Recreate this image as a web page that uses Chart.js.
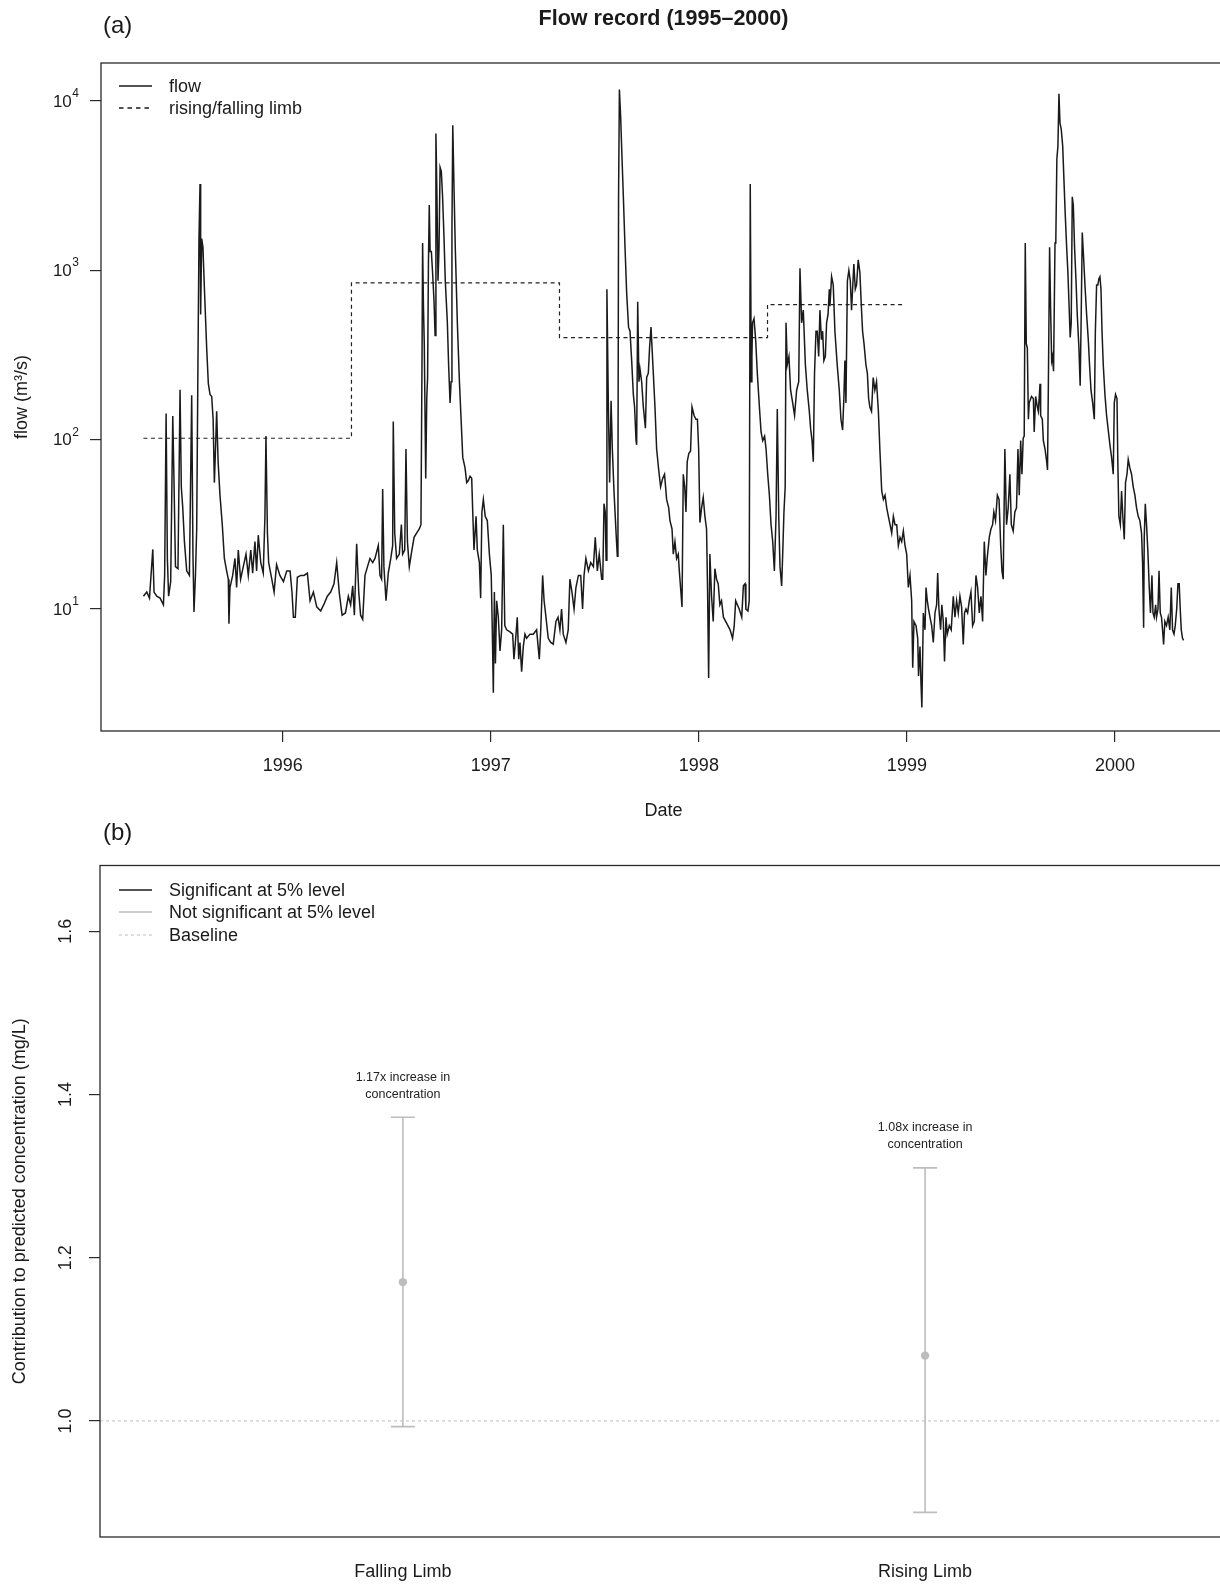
<!DOCTYPE html>
<html>
<head>
<meta charset="utf-8">
<title>Flow record and limb effects</title>
<script src="https://cdn.jsdelivr.net/npm/chart.js@4.4.1/dist/chart.umd.min.js"></script>
<style>
  html, body { margin: 0; padding: 0; background: #fff; overflow: hidden; }
  body { width: 1220px; height: 1584px; position: relative; }
  canvas { position: absolute; left: 0; }
  #flowChart { top: 0; }
  #effectChart { top: 800px; }
</style>
</head>
<body>
<canvas id="flowChart" width="1240" height="830"></canvas>
<canvas id="effectChart" width="1240" height="784"></canvas>
<script>
// daily flow record, decimal years
const flowDate = [
  1995.330, 1995.346, 1995.359, 1995.375, 1995.381, 1995.394, 1995.410, 1995.426, 1995.432, 1995.439,
  1995.445, 1995.451, 1995.461, 1995.471, 1995.477, 1995.484, 1995.496, 1995.506, 1995.512, 1995.519,
  1995.527, 1995.538, 1995.551, 1995.562, 1995.568, 1995.573, 1995.580, 1995.586, 1995.592, 1995.597,
  1995.602, 1995.605, 1995.610, 1995.616, 1995.624, 1995.634, 1995.642, 1995.650, 1995.658, 1995.665,
  1995.671, 1995.677, 1995.682, 1995.689, 1995.698, 1995.709, 1995.719, 1995.730, 1995.738, 1995.741,
  1995.746, 1995.759, 1995.770, 1995.778, 1995.786, 1995.797, 1995.810, 1995.823, 1995.834, 1995.846,
  1995.855, 1995.866, 1995.874, 1995.882, 1995.894, 1995.906, 1995.914, 1995.919, 1995.926, 1995.932,
  1995.947, 1995.958, 1995.970, 1995.986, 1996.003, 1996.019, 1996.035, 1996.044, 1996.051, 1996.060,
  1996.070, 1996.086, 1996.102, 1996.118, 1996.131, 1996.147, 1996.163, 1996.182, 1996.198, 1996.214,
  1996.230, 1996.246, 1996.259, 1996.272, 1996.285, 1996.301, 1996.315, 1996.326, 1996.336, 1996.344,
  1996.355, 1996.365, 1996.374, 1996.384, 1996.395, 1996.410,
  1996.419, 1996.432, 1996.443, 1996.459, 1996.467, 1996.475, 1996.480, 1996.486, 1996.496, 1996.507,
  1996.519, 1996.528, 1996.531, 1996.538, 1996.547, 1996.560, 1996.570, 1996.576, 1996.586, 1996.592,
  1996.599, 1996.608, 1996.619, 1996.631, 1996.643, 1996.656, 1996.664, 1996.669, 1996.672, 1996.676,
  1996.680, 1996.687, 1996.692, 1996.696, 1996.700, 1996.704, 1996.708, 1996.714, 1996.720, 1996.727,
  1996.732, 1996.736, 1996.741, 1996.746, 1996.751, 1996.756, 1996.762, 1996.768, 1996.775, 1996.781,
  1996.791, 1996.797, 1996.804, 1996.809, 1996.813, 1996.817, 1996.823, 1996.829, 1996.839, 1996.849,
  1996.857, 1996.865, 1996.876, 1996.884, 1996.892, 1996.900, 1996.908, 1996.913, 1996.919, 1996.929,
  1996.935, 1996.945, 1996.951, 1996.957, 1996.964, 1996.973, 1996.983, 1996.993, 1997.002, 1997.007,
  1997.012, 1997.017, 1997.022, 1997.028, 1997.036, 1997.044, 1997.052, 1997.060, 1997.067, 1997.076,
  1997.092, 1997.105, 1997.111, 1997.118, 1997.127, 1997.134, 1997.140, 1997.148, 1997.156, 1997.164,
  1997.172, 1997.188, 1997.204, 1997.220, 1997.233, 1997.240, 1997.249, 1997.256, 1997.265, 1997.276,
  1997.288, 1997.300, 1997.313, 1997.323, 1997.332, 1997.340, 1997.348, 1997.361, 1997.372, 1997.380,
  1997.390, 1997.400, 1997.409, 1997.421, 1997.432, 1997.441, 1997.448, 1997.457, 1997.469, 1997.480,
  1997.493, 1997.502, 1997.512, 1997.521,
  1997.525, 1997.533, 1997.538, 1997.544, 1997.550, 1997.554, 1997.558, 1997.565, 1997.571, 1997.578,
  1997.584, 1997.592, 1997.602, 1997.608, 1997.611, 1997.614, 1997.618, 1997.624, 1997.630, 1997.637,
  1997.645, 1997.653, 1997.662, 1997.669, 1997.677, 1997.685, 1997.691, 1997.698, 1997.701, 1997.706,
  1997.712, 1997.717, 1997.725, 1997.733, 1997.743, 1997.749, 1997.757, 1997.763, 1997.770, 1997.778,
  1997.789, 1997.797, 1997.807, 1997.816, 1997.826, 1997.835, 1997.845, 1997.855, 1997.861, 1997.871,
  1997.877, 1997.885, 1997.893, 1997.901, 1997.906, 1997.912, 1997.919, 1997.925, 1997.932, 1997.938,
  1997.944, 1997.952, 1997.960, 1997.967, 1997.977, 1997.986, 1997.993, 1997.999, 1998.005, 1998.013,
  1998.021, 1998.029, 1998.037, 1998.042, 1998.047, 1998.053, 1998.061, 1998.069, 1998.077, 1998.085,
  1998.093, 1998.101, 1998.109, 1998.118, 1998.134, 1998.150, 1998.162, 1998.170, 1998.177, 1998.185,
  1998.194, 1998.206, 1998.214, 1998.222, 1998.226, 1998.236, 1998.242, 1998.247, 1998.252, 1998.255,
  1998.258, 1998.265, 1998.273, 1998.281, 1998.291, 1998.299, 1998.307, 1998.316, 1998.323, 1998.331,
  1998.339, 1998.347, 1998.355, 1998.363, 1998.371, 1998.377, 1998.384, 1998.390, 1998.398, 1998.403,
  1998.409, 1998.415, 1998.419, 1998.425, 1998.433, 1998.441, 1998.451, 1998.460, 1998.470, 1998.480,
  1998.486, 1998.494, 1998.502, 1998.512, 1998.521, 1998.531, 1998.537, 1998.544, 1998.550, 1998.556,
  1998.563, 1998.569, 1998.576, 1998.582, 1998.589, 1998.595, 1998.601, 1998.608, 1998.614, 1998.621,
  1998.627,
  1998.630, 1998.638, 1998.646, 1998.654, 1998.665, 1998.675, 1998.683, 1998.691, 1998.697, 1998.702,
  1998.707, 1998.714, 1998.721, 1998.728, 1998.734, 1998.739, 1998.745, 1998.752, 1998.758, 1998.766,
  1998.774, 1998.781, 1998.787, 1998.794, 1998.803, 1998.810, 1998.816, 1998.822, 1998.830, 1998.838,
  1998.846, 1998.854, 1998.863, 1998.870, 1998.879, 1998.887, 1998.895, 1998.903, 1998.911, 1998.919,
  1998.927, 1998.935, 1998.943, 1998.951, 1998.959, 1998.967, 1998.975, 1998.983, 1998.991, 1998.999,
  1999.007, 1999.015, 1999.023, 1999.028, 1999.034, 1999.044, 1999.052, 1999.056, 1999.063, 1999.068,
  1999.072, 1999.079, 1999.087, 1999.092, 1999.098, 1999.104, 1999.111, 1999.119, 1999.127, 1999.135,
  1999.143, 1999.148, 1999.154, 1999.162, 1999.168, 1999.175, 1999.181, 1999.188, 1999.194, 1999.204,
  1999.213, 1999.223, 1999.231, 1999.239, 1999.247, 1999.255, 1999.263, 1999.271, 1999.277, 1999.284,
  1999.292, 1999.300, 1999.308, 1999.316, 1999.324, 1999.332, 1999.340, 1999.348, 1999.356, 1999.364,
  1999.372, 1999.380, 1999.386, 1999.396, 1999.404, 1999.412, 1999.418, 1999.426, 1999.435, 1999.443,
  1999.451, 1999.457, 1999.463, 1999.471, 1999.479, 1999.487, 1999.495, 1999.502, 1999.511, 1999.519,
  1999.527, 1999.534, 1999.540, 1999.547, 1999.553, 1999.559, 1999.564, 1999.569, 1999.574, 1999.579,
  1999.584, 1999.588,
  1999.591, 1999.599, 1999.608, 1999.612, 1999.619, 1999.627, 1999.632, 1999.640, 1999.643, 1999.651,
  1999.656, 1999.664, 1999.672, 1999.676, 1999.681, 1999.686, 1999.691, 1999.696, 1999.700, 1999.705,
  1999.712, 1999.716, 1999.721, 1999.726, 1999.731, 1999.736, 1999.742, 1999.749, 1999.755, 1999.761,
  1999.768, 1999.774, 1999.779, 1999.785, 1999.790, 1999.795, 1999.800, 1999.806, 1999.813, 1999.819,
  1999.827, 1999.833, 1999.838, 1999.843, 1999.849, 1999.856, 1999.864, 1999.872, 1999.878, 1999.885,
  1999.893, 1999.901, 1999.906, 1999.912, 1999.918, 1999.923, 1999.928, 1999.933, 1999.938, 1999.944,
  1999.952, 1999.960, 1999.968, 1999.976, 1999.984, 1999.992, 1999.997, 2000.003, 2000.010, 2000.014,
  2000.019, 2000.026, 2000.032, 2000.038, 2000.045, 2000.051, 2000.058, 2000.064, 2000.072, 2000.080,
  2000.088, 2000.096, 2000.104, 2000.112, 2000.120, 2000.128, 2000.133, 2000.138, 2000.141, 2000.146,
  2000.152, 2000.159, 2000.165, 2000.171, 2000.178, 2000.183, 2000.189, 2000.196, 2000.200, 2000.207,
  2000.212, 2000.218, 2000.224, 2000.229, 2000.234, 2000.240, 2000.248, 2000.256, 2000.264, 2000.271,
  2000.277, 2000.284, 2000.290, 2000.297, 2000.303, 2000.309, 2000.314, 2000.319, 2000.325, 2000.330
];

// flow, m3/s
const flowValue = [
  11.9, 12.6, 11.6, 22.5, 12.6, 11.9, 11.6, 10.6, 15.8, 143,
  19.9, 11.9, 14.5, 138, 55.8, 17.8, 17.3, 197, 52.7, 39.6,
  25, 16.8, 15.8, 183, 21.1, 9.6, 15.8, 29.7, 277, 1540,
  3230, 549, 1540, 1370, 731, 348, 214, 185, 180, 132,
  55.8, 93, 147, 74, 47, 31.5, 19.9, 16.8, 15, 8.2,
  13.4, 15.8, 19.9, 13.4, 22.3, 15, 17.8, 21.1, 15.8, 22.3,
  16.3, 25, 16.8, 27.3, 18.8, 16.3, 35.3, 105, 28.1, 18.8,
  15, 12.6, 18.3, 15.8, 14.5, 16.8, 16.8, 12.6, 8.95, 8.95,
  15.4, 15.8, 15.8, 16.3, 11.2, 12.6, 10.3, 9.75, 10.7, 11.9,
  12.6, 14.1, 18.8, 12.3, 9.2, 9.48, 11.9, 10.6, 13.7, 9.2,
  24.3, 12.6, 9.2, 8.7, 15.8, 18.3,
  19.9, 18.8, 19.9, 23.7, 15.8, 15, 51.2, 17.8, 11.2, 16.3,
  19.9, 23.7, 128, 28.1, 19.9, 21.1, 31.5, 21.1, 22.3, 88,
  25, 17.8, 21.7, 26.5, 28.1, 29.7, 31.5, 277, 1450, 615,
  368, 59, 175, 233, 1090, 2430, 1290, 1290, 972, 652,
  413, 6420, 2720, 868, 1370, 4060, 3840, 2720, 1540, 868,
  490, 277, 165, 220, 1720, 7200, 3050, 1370, 490, 220,
  132, 78.6, 68.1, 55.8, 57.4, 60.8, 59.1, 37.4, 22.3, 35.3,
  22.3, 18.8, 11.6, 37.4, 44.4, 35.3, 33.3, 21.1, 15.8, 7.54,
  3.2, 12.6, 4.77, 11.2, 8.95, 5.66, 7.54, 31.5, 7.98, 7.54,
  7.33, 7.11, 5.05, 6.35, 8.95, 5.05, 6.35, 4.26, 6.0, 7.11,
  6.72, 7.11, 7.11, 7.54, 5.05, 7.54, 15.8, 11.2, 8.95, 6.72,
  6.35, 6.2, 8.45, 8.95, 7.54, 10.0, 7.11, 6.35, 7.54, 15,
  12.6, 10.0, 13.4, 15.8, 15.8, 10.0, 15.8, 19.9, 16.8, 18.8,
  17.8, 26.5, 16.8, 21.1,
  18.8, 15, 15, 41.9, 37.4, 19.4, 774, 156, 55.8, 170,
  88, 49.8, 28.1, 20.5, 49.8, 2720, 11700, 8070, 4820, 2720,
  1370, 731, 462, 437, 293, 185, 156, 98.8, 93.3, 652,
  220, 261, 220, 156, 117, 233, 247, 348, 462, 293,
  156, 88.1, 66.2, 52.7, 59.1, 62.5, 44.4, 39.6, 33.3, 29.7,
  21.1, 25, 19.9, 21.1, 16.8, 13.4, 10.3, 62.5, 52.7, 37.4,
  74.2, 83.2, 85.6, 156, 139, 132, 132, 88.1, 32.4, 39.6,
  45.7, 35.3, 29.7, 12.6, 3.91, 21.1, 11.9, 8.45, 17.3, 15,
  14.1, 10.6, 11.2, 8.95, 8.22, 7.54, 6.72, 7.98, 11.2, 10.6,
  10.0, 8.95, 13.7, 14.1, 10.0, 9.75, 11.2, 3230, 220, 310,
  490, 519, 390, 247, 156, 111, 98.8, 105, 88.1, 62.5,
  47, 31.5, 25, 16.8, 35.3, 152, 35.3, 17.8, 13.7, 21.1,
  37.4, 52.7, 490, 277, 310, 196, 165, 139, 196, 220,
  1030, 490, 582, 277, 196, 147, 117, 98.8, 74.2, 247,
  437, 437, 310, 582, 390, 437, 293, 310, 490, 549,
  774,
  615, 918, 820, 437, 277, 196, 132, 114, 175, 293,
  165, 868, 1000, 868, 582, 774, 1090, 774, 820, 1155,
  972, 615, 437, 368, 277, 247, 175, 156, 147, 233,
  196, 220, 147, 88.1, 49.8, 44.4, 47, 39.6, 35.3, 31.5,
  28.1, 35.3, 31.5, 31.5, 23.7, 26.5, 25, 28.9, 23.7, 21.1,
  13.4, 15.8, 11.2, 4.5, 8.45, 7.98, 6.72, 4.02, 6.0, 3.58,
  2.62, 9.48, 7.54, 13.4, 11.2, 10.0, 8.95, 7.98, 6.35, 9.48,
  10.6, 16.3, 10.0, 7.54, 10.6, 8.45, 4.91, 8.95, 7.11, 7.98,
  7.54, 11.9, 8.95, 11.2, 9.48, 11.9, 10.3, 6.17, 9.48, 10.0,
  9.48, 11.2, 12.6, 7.98, 8.45, 15.8, 13.4, 9.48, 11.9, 8.45,
  25, 15.8, 19.9, 26.5, 29.7, 31.5, 37.4, 33.3, 47, 44.4,
  23.7, 16.8, 15, 88.1, 31.5, 39.6, 62.5, 31.5, 28.9, 37.4,
  39.6, 88.1, 47, 98.8, 62.5, 102, 105, 1450, 368, 348,
  132, 165,
  165, 180, 175, 111, 180, 156, 147, 214, 139, 132,
  98.8, 88.1, 74.2, 66.2, 277, 1370, 582, 293, 310, 254,
  1450, 1540, 4560, 5410, 11040, 7410, 6800, 5410, 3420, 2170,
  1370, 972, 652, 401, 490, 2720, 2430, 1370, 868, 549,
  348, 208, 549, 1670, 1220, 820, 549, 390, 277, 196,
  165, 132, 437, 820, 820, 893, 918, 774, 437, 277,
  185, 139, 114, 93.3, 78.6, 62.5, 165, 185, 175, 74.2,
  35.3, 31.5, 49.8, 35.3, 25.8, 55.8, 62.5, 76.4, 68.1, 62.5,
  52.7, 47, 39.6, 35.3, 33.3, 28.1, 18.8, 7.76, 26.5, 41.9,
  31.5, 21.1, 13.4, 9.48, 15.8, 9.48, 8.95, 10.6, 8.95, 10.0,
  16.8, 9.48, 8.95, 7.54, 6.17, 8.45, 7.98, 8.95, 7.54, 13.4,
  7.54, 7.11, 7.98, 10.0, 14.1, 14.1, 10.0, 7.54, 6.72, 6.53
];

// rising/falling limb threshold, one level per period
const limbBreaks = [1995.33, 1996.33, 1997.33, 1998.33, 1998.98];
const limbLevels = [102, 843, 401, 627, 627];

const yearTicks = [1996, 1997, 1998, 1999, 2000];
const flowTicks = [10, 100, 1000, 10000];

// panel (b): limb effect on concentration
const limbNames = ['Falling Limb', 'Rising Limb'];
const limbEstimate = [1.17, 1.08];
const limbLower = [0.993, 0.888];
const limbUpper = [1.372, 1.310];
const limbSignificant = [false, false];
const effectTicks = [1.0, 1.2, 1.4, 1.6];
const baselineLevel = 1.0;
const keyLabels = ['Significant at 5% level', 'Not significant at 5% level', 'Baseline'];

const FONT = '"Liberation Sans", Arial, Helvetica, sans-serif';
const INK = '#1a1a1a';
const GREY = '#bdbdbd';
Chart.defaults.font.family = FONT;
Chart.defaults.color = INK;

function drawKey(ctx, rows) {
  rows.forEach(r => {
    ctx.beginPath();
    ctx.setLineDash(r.dash || []);
    ctx.strokeStyle = r.color;
    ctx.lineWidth = r.width;
    ctx.moveTo(119, r.y);
    ctx.lineTo(152, r.y);
    ctx.stroke();
    ctx.setLineDash([]);
    ctx.fillStyle = INK;
    ctx.font = '18px ' + FONT;
    ctx.textAlign = 'left';
    ctx.textBaseline = 'middle';
    ctx.fillText(r.text, 169, r.y + 1);
  });
}

function strokeFrame(ctx, a) {
  ctx.strokeStyle = '#2a2a2a';
  ctx.lineWidth = 1.3;
  ctx.setLineDash([]);
  ctx.strokeRect(a.left, a.top, a.right - a.left, a.bottom - a.top);
}

// box, titles, power-of-ten labels and key for the flow panel
const flowDecor = {
  id: 'flowDecor',
  afterDraw(chart) {
    const { ctx, chartArea: a, scales } = chart;
    ctx.save();
    strokeFrame(ctx, a);
    ctx.fillStyle = INK;

    ctx.font = 'bold 21.5px ' + FONT;
    ctx.textAlign = 'center';
    ctx.textBaseline = 'middle';
    ctx.fillText('Flow record (1995\u20132000)', (a.left + a.right) / 2, 19);

    ctx.font = '24px ' + FONT;
    ctx.textAlign = 'left';
    ctx.fillText('(a)', 103, 26);

    ctx.font = '18px ' + FONT;
    ctx.textAlign = 'center';
    ctx.fillText('Date', (a.left + a.right) / 2, 811);

    ctx.save();
    ctx.translate(22, (a.top + a.bottom) / 2);
    ctx.rotate(-Math.PI / 2);
    ctx.fillText('flow (m\u00b3/s)', 0, 0);
    ctx.restore();

    flowTicks.forEach(v => {
      const y = scales.y.getPixelForValue(v);
      const exp = String(Math.round(Math.log10(v)));
      ctx.font = '12px ' + FONT;
      const ew = ctx.measureText(exp).width;
      ctx.textAlign = 'left';
      ctx.textBaseline = 'alphabetic';
      ctx.fillText(exp, 79 - ew, y - 4);
      ctx.font = '17px ' + FONT;
      ctx.textAlign = 'right';
      ctx.textBaseline = 'middle';
      ctx.fillText('10', 79 - ew - 0.5, y + 1);
    });

    const ds = chart.data.datasets;
    drawKey(ctx, [
      { y: 86, text: ds[0].label, color: INK, width: 1.3 },
      { y: 108, text: ds[1].label, color: INK, width: 1.3, dash: [4.5, 4] }
    ]);
    ctx.restore();
  }
};

new Chart(document.getElementById('flowChart'), {
  type: 'line',
  data: {
    datasets: [
      {
        label: 'flow',
        data: flowDate.map((d, i) => ({ x: d, y: flowValue[i] })),
        borderColor: INK,
        borderWidth: 1.5,
        pointRadius: 0,
        tension: 0
      },
      {
        label: 'rising/falling limb',
        data: limbBreaks.map((d, i) => ({ x: d, y: limbLevels[i] })),
        stepped: true,
        borderColor: '#222',
        borderWidth: 1.2,
        borderDash: [4, 3.5],
        pointRadius: 0
      }
    ]
  },
  options: {
    responsive: false,
    animation: false,
    events: [],
    layout: { padding: { top: 63, right: 14, left: 0, bottom: 0 } },
    plugins: { legend: { display: false }, tooltip: { enabled: false } },
    scales: {
      x: {
        type: 'linear',
        min: 1995.126,
        max: 2000.534,
        afterBuildTicks: scale => { scale.ticks = yearTicks.map(v => ({ value: v })); },
        afterFit: scale => { scale.height = 99; },
        border: { display: false },
        grid: { drawOnChartArea: false, drawTicks: true, tickLength: 11, color: '#2a2a2a', lineWidth: 1.2 },
        ticks: {
          callback: v => String(v),
          autoSkip: false,
          maxRotation: 0,
          padding: 13,
          color: INK,
          font: { size: 18 }
        }
      },
      y: {
        type: 'logarithmic',
        min: 1.905,
        max: 16760,
        afterBuildTicks: scale => { scale.ticks = flowTicks.map(v => ({ value: v })); },
        afterFit: scale => { scale.width = 101; },
        border: { display: false },
        grid: { drawOnChartArea: false, drawTicks: true, tickLength: 11, color: '#2a2a2a', lineWidth: 1.2 },
        ticks: { display: false }
      }
    }
  },
  plugins: [flowDecor]
});

// confidence bars, captions, box and key for the effect panel
const effectBars = {
  id: 'effectBars',
  beforeDatasetsDraw(chart) {
    const { ctx, scales } = chart;
    ctx.save();
    limbNames.forEach((name, i) => {
      const x = scales.x.getPixelForValue(i + 1);
      const yTop = scales.y.getPixelForValue(limbUpper[i]);
      const yBot = scales.y.getPixelForValue(limbLower[i]);
      ctx.strokeStyle = limbSignificant[i] ? INK : GREY;
      ctx.lineWidth = 1.6;
      ctx.beginPath();
      ctx.moveTo(x, yTop); ctx.lineTo(x, yBot);
      ctx.moveTo(x - 12, yTop); ctx.lineTo(x + 12, yTop);
      ctx.moveTo(x - 12, yBot); ctx.lineTo(x + 12, yBot);
      ctx.stroke();
    });
    ctx.restore();
  },
  afterDraw(chart) {
    const { ctx, chartArea: a, scales } = chart;
    ctx.save();
    strokeFrame(ctx, a);
    ctx.fillStyle = INK;

    ctx.font = '24px ' + FONT;
    ctx.textAlign = 'left';
    ctx.textBaseline = 'middle';
    ctx.fillText('(b)', 103, 33);

    ctx.font = '12.5px ' + FONT;
    ctx.textAlign = 'center';
    ctx.fillStyle = '#222';
    limbNames.forEach((name, i) => {
      const x = scales.x.getPixelForValue(i + 1);
      const yTop = scales.y.getPixelForValue(limbUpper[i]);
      ctx.fillText(limbEstimate[i].toFixed(2) + 'x increase in', x, yTop - 40);
      ctx.fillText('concentration', x, yTop - 23);
    });

    ctx.fillStyle = INK;
    ctx.font = '18px ' + FONT;
    effectTicks.forEach(v => {
      const y = scales.y.getPixelForValue(v);
      ctx.save();
      ctx.translate(66, y);
      ctx.rotate(-Math.PI / 2);
      ctx.textAlign = 'center';
      ctx.textBaseline = 'middle';
      ctx.fillText(v.toFixed(1), 0, 0);
      ctx.restore();
    });

    ctx.save();
    ctx.translate(20, (a.top + a.bottom) / 2);
    ctx.rotate(-Math.PI / 2);
    ctx.textAlign = 'center';
    ctx.textBaseline = 'middle';
    ctx.fillText('Contribution to predicted concentration (mg/L)', 0, 0);
    ctx.restore();

    drawKey(ctx, [
      { y: 90, text: keyLabels[0], color: INK, width: 1.3 },
      { y: 112, text: keyLabels[1], color: GREY, width: 1.3 },
      { y: 135, text: keyLabels[2], color: '#c8c8c8', width: 1.2, dash: [3, 3] }
    ]);
    ctx.restore();
  }
};

new Chart(document.getElementById('effectChart'), {
  type: 'line',
  data: {
    datasets: [
      {
        label: 'estimate',
        data: limbEstimate.map((v, i) => ({ x: i + 1, y: v })),
        showLine: false,
        pointRadius: 4.2,
        pointBackgroundColor: limbSignificant.map(s => s ? INK : GREY),
        pointBorderColor: limbSignificant.map(s => s ? INK : GREY),
        pointBorderWidth: 0
      },
      {
        label: 'Baseline',
        data: [{ x: 0.42, y: baselineLevel }, { x: 2.58, y: baselineLevel }],
        borderColor: '#c8c8c8',
        borderWidth: 1.2,
        borderDash: [3, 3],
        pointRadius: 0
      }
    ]
  },
  options: {
    responsive: false,
    animation: false,
    events: [],
    layout: { padding: { top: 65.5, right: 12, left: 0, bottom: 0 } },
    plugins: { legend: { display: false }, tooltip: { enabled: false } },
    scales: {
      x: {
        type: 'linear',
        min: 0.42,
        max: 2.58,
        afterBuildTicks: scale => { scale.ticks = limbNames.map((n, i) => ({ value: i + 1 })); },
        afterFit: scale => { scale.height = 47; },
        border: { display: false },
        grid: { drawOnChartArea: false, drawTicks: false },
        ticks: {
          callback: v => limbNames[v - 1],
          autoSkip: false,
          maxRotation: 0,
          padding: 24,
          color: INK,
          font: { size: 18 }
        }
      },
      y: {
        type: 'linear',
        min: 0.8578,
        max: 1.6804,
        afterBuildTicks: scale => { scale.ticks = effectTicks.map(v => ({ value: v })); },
        afterFit: scale => { scale.width = 100; },
        border: { display: false },
        grid: { drawOnChartArea: false, drawTicks: true, tickLength: 11, color: '#2a2a2a', lineWidth: 1.2 },
        ticks: { display: false }
      }
    }
  },
  plugins: [effectBars]
});
</script>
</body>
</html>
